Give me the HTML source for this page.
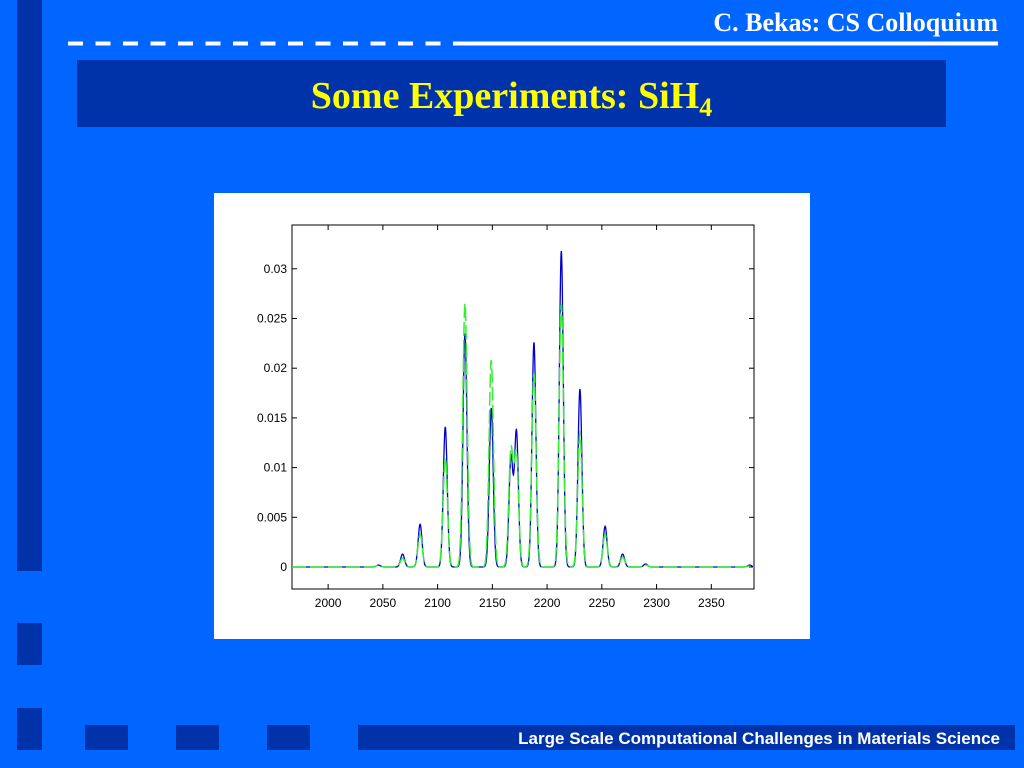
<!DOCTYPE html>
<html><head><meta charset="utf-8">
<style>
body{margin:0;width:1024px;height:768px;background:#0066ff;position:relative;overflow:hidden;font-family:"Liberation Sans",sans-serif}
.d{position:absolute;background:#0033aa}
</style></head><body>
<div class="d" style="left:17px;top:0;width:25px;height:571px"></div>
<div class="d" style="left:17px;top:623px;width:25px;height:42px"></div>
<div class="d" style="left:17px;top:708px;width:25px;height:42px"></div>
<div class="d" style="left:85px;top:725px;width:43px;height:25px"></div>
<div class="d" style="left:176px;top:725px;width:43px;height:25px"></div>
<div class="d" style="left:267px;top:725px;width:43px;height:25px"></div>
<div class="d" style="left:358px;top:725px;width:657px;height:25px;color:#fff;font-size:17px;font-weight:bold;text-align:right;line-height:27px;box-sizing:border-box;padding-right:15px;white-space:nowrap">Large Scale Computational Challenges in Materials Science</div>
<div style="position:absolute;right:26px;top:8px;color:#fff;font:bold 26px 'Liberation Serif',serif;white-space:nowrap">C. Bekas: CS Colloquium</div>
<svg style="position:absolute;left:0;top:0" width="1024" height="50">
<line x1="68" y1="43.5" x2="446" y2="43.5" stroke="#fff" stroke-width="4" stroke-dasharray="15 12.5"/>
<line x1="453" y1="43.5" x2="998" y2="43.5" stroke="#fff" stroke-width="4"/>
</svg>
<div class="d" style="left:77px;top:60px;width:869px;height:67px;text-align:center;color:#ffff00;font:bold 38px 'Liberation Serif',serif;line-height:72px;white-space:nowrap">Some Experiments: SiH<sub style="font-size:26px;vertical-align:-8px">4</sub></div>
<div style="position:absolute;left:214px;top:193px;width:596px;height:446px;background:#fff"></div>
<svg id="chart" style="position:absolute;left:0;top:0" width="1024" height="768"></svg>
<script>
const xTicks=[2000,2050,2100,2150,2200,2250,2300,2350];
const yTicks=[0,0.005,0.01,0.015,0.02,0.025,0.03];
const yTickLabels=["0","0.005","0.01","0.015","0.02","0.025","0.03"];
const peakCenters=[2046,2068,2084,2107,2125,2149,2167,2172,2188,2213,2230,2253,2269,2290,2385];
const bluePeaks=[0.0002,0.0013,0.0043,0.0141,0.0235,0.0160,0.0110,0.0136,0.0226,0.0318,0.0179,0.0041,0.0013,0.0003,0.0002];
const greenPeaks=[0.0002,0.0009,0.0033,0.0110,0.0265,0.0208,0.0116,0.0112,0.0195,0.0265,0.0135,0.0033,0.0010,0.0002,0.0001];
const L=292,R=754,T=225,B=589;
const x0=1967,x1=2389;
const X=v=>L+(v-x0)/(x1-x0)*(R-L);
const Y=v=>567-v/0.005*49.7;
const svg=document.getElementById('chart');
const NS='http://www.w3.org/2000/svg';
function mk(t,a){const e=document.createElementNS(NS,t);for(const k in a)e.setAttribute(k,a[k]);svg.appendChild(e);return e;}
const box=mk('rect',{x:L,y:T,width:R-L,height:B-T,fill:'none',stroke:'#000','stroke-width':1});


xTicks.forEach(v=>{
  const t=mk('line',{x1:X(v),x2:X(v),y1:B,y2:B-5,stroke:'#000'});
  
  
  const t2=mk('line',{x1:X(v),x2:X(v),y1:T,y2:T+5,stroke:'#000'});
  
  
  const lb=mk('text',{x:X(v),y:B+18,'text-anchor':'middle','font-size':12,'font-family':'Liberation Sans, sans-serif',fill:'#000'});
  lb.textContent=v;
  
  
});
yTicks.forEach((v,i)=>{
  const t=mk('line',{x1:L,x2:L+5,y1:Y(v),y2:Y(v),stroke:'#000'});
  
  
  const t2=mk('line',{x1:R,x2:R-5,y1:Y(v),y2:Y(v),stroke:'#000'});
  
  
  const lb=mk('text',{x:L-5,y:Y(v)+4,'text-anchor':'end','font-size':12,'font-family':'Liberation Sans, sans-serif',fill:'#000'});
  lb.textContent=yTickLabels[i];
  
  
});
function curve(h,w){
  let d='';
  for(let v=x0;v<=x1;v+=0.25){
    let s=0;
    for(let i=0;i<peakCenters.length;i++){const u=(v-peakCenters[i])/w;s+=h[i]*Math.exp(-0.5*u*u);}
    d+=(d?'L':'M')+X(v).toFixed(2)+','+Y(s).toFixed(2);
  }
  return d;
}
const bl=mk('path',{d:curve(bluePeaks,1.8),fill:'none',stroke:'#0000cc','stroke-width':1.3});


const gr=mk('path',{d:curve(greenPeaks,2.0),fill:'none',stroke:'#33ee33','stroke-width':1.5,'stroke-dasharray':'14 4'});


</script>
</body></html>
